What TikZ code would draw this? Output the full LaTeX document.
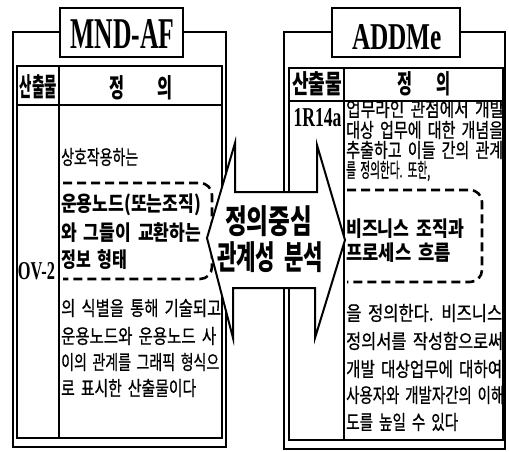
\documentclass[tikz,border=0pt]{standalone}
\usepackage{fontspec}
\newfontfamily\kr[WordSpace=1.8]{Noto Sans CJK KR}
\newfontfamily\krm[WordSpace=1.8,FakeBold=0.8]{Noto Sans CJK KR}
\newfontfamily\ttl{Liberation Serif}
\newcommand{\fitw}[2]{\resizebox{#1pt}{\height}{#2}}
\begin{document}
\begin{tikzpicture}[x=1pt,y=-1pt,
  frame/.style={draw=black, line width=1.6pt},
  grid/.style={draw=black, line width=1.2pt},
  titlebox/.style={draw=black, line width=1.6pt, fill=white, inner sep=0pt},
  dbox/.style={draw=black, line width=2.6pt, dash pattern=on 9pt off 5pt, rounded corners=12pt},
  body/.style={anchor=west, inner sep=0pt, font=\krm\fontsize{20}{20}\selectfont},
  bbody/.style={anchor=west, inner sep=0pt, font=\kr\bfseries\fontsize{21}{21}\selectfont},
  hdr/.style={inner sep=0pt, font=\kr\bfseries\fontsize{26}{26}\selectfont},
  code/.style={inner sep=0pt, font=\ttl\bfseries},
  ctext/.style={inner sep=0pt, font=\kr\bfseries\fontsize{33}{33}\selectfont},
  arrowshape/.style={draw=black, line width=2pt, fill=white, line join=miter},
]
\useasboundingbox (0,0) rectangle (509,451);
\fill[white] (0,0) rectangle (509,451);

% ---------- left panel ----------
\draw[frame] (13,32) rectangle (226,447);
\draw[grid] (17,66) rectangle (222,438);
\draw[grid] (17,105) -- (222,105);
\draw[grid] (59,66) -- (59,438);
\node[titlebox, minimum width=123pt, minimum height=49pt] (t1) at (121.5,32.5) {};
\node[code] (t1txt) at (122.5,34) {\resizebox{104pt}{29pt}{MND-AF}};
\node[hdr] (h1a) at (38.5,87) {\fitw{37}{산출물}};
\node[hdr] (h1b) at (117,88) {\fitw{15}{정}};
\node[hdr] (h1c) at (165,88) {\fitw{15}{의}};
\node[code] (ov) at (36.5,271.5) {\resizebox{37pt}{17pt}{OV-2}};

\begin{scope}
\clip (59.6,105.6) rectangle (221.4,437.4);
\node[body] (l1) at (61,157) {\fitw{77}{상호작용하는}};
\node[bbody] (l2) at (61,205) {\fitw{140}{운용노드(또는조직)}};
\node[bbody] (l3) at (61,233) {\fitw{140}{와 그들이 교환하는}};
\node[bbody] (l4) at (61,260) {\fitw{66}{정보 형태}};
\node[body] (l5) at (61,308) {\fitw{160}{의 식별을 통해 기술되고}};
\node[body] (l6) at (61,336) {\fitw{155}{운용노드와 운용노드 사}};
\node[body] (l7) at (61,362) {\fitw{158}{이의 관계를 그래픽 형식으}};
\node[body] (l8) at (61,388) {\fitw{135}{로 표시한 산출물이다}};
\end{scope}
\draw[dbox] (63,183) -- (212,183) -- (212,279) -- (63,279);

% ---------- right panel ----------
\draw[frame] (284,32) rectangle (505,449);
\draw[grid] (289,68) rectangle (503,440);
\draw[grid] (289,101) -- (503,101);
\draw[grid] (344,68) -- (344,440);
\node[titlebox, minimum width=128pt, minimum height=49pt] (t2) at (396,32.5) {};
\node[code] (t2txt) at (397,37.5) {\resizebox{90pt}{25pt}{ADDMe}};
\node[hdr] (h2a) at (317,84) {\fitw{50}{산출물}};
\node[hdr] (h2b) at (405,84) {\fitw{15}{정}};
\node[hdr] (h2c) at (443,84) {\fitw{14}{의}};
\node[code] (rc) at (317.5,118) {\resizebox{48pt}{18pt}{1R14a}};

\begin{scope}
\clip (344.6,101.6) rectangle (502.4,439.4);
\node[body] (r1) at (346,109) {\fitw{158}{업무라인 관점에서 개발}};
\node[body] (r2) at (346,130) {\fitw{157}{대상 업무에 대한 개념을}};
\node[body] (r3) at (346,150) {\fitw{157}{추출하고 이들 간의 관계}};
\node[body] (r4) at (346,171) {\fitw{84}{를 정의한다. 또한,}};
\node[bbody] (r5) at (346,229) {\fitw{118}{비즈니스 조직과}};
\node[bbody] (r6) at (346,253) {\fitw{105}{프로세스 흐름}};
\node[body] (r7) at (346,313) {\fitw{156}{을 정의한다. 비즈니스}};
\node[body] (r8) at (346,341) {\fitw{157}{정의서를 작성함으로써}};
\node[body] (r9) at (346,369) {\fitw{156}{개발 대상업무에 대하여}};
\node[body] (r10) at (346,395) {\fitw{158}{사용자와 개발자간의 이해}};
\node[body] (r11) at (346,422) {\fitw{112}{도를 높일 수 있다}};
\end{scope}
\draw[dbox] (347,190) -- (482,190) -- (482,282) -- (347,282);

% ---------- central double arrow ----------
\draw[arrowshape] (235,143) -- (235,192) -- (317,192) -- (317,145) -- (345,240)
  -- (315,338) -- (315,288) -- (233,288) -- (233,338) -- (207,238) -- cycle;
\node[ctext] (c1) at (268.5,221) {\fitw{87}{정의중심}};
\node[ctext] (c2) at (270,257) {\fitw{106}{관계성 분석}};
\end{tikzpicture}
\end{document}
